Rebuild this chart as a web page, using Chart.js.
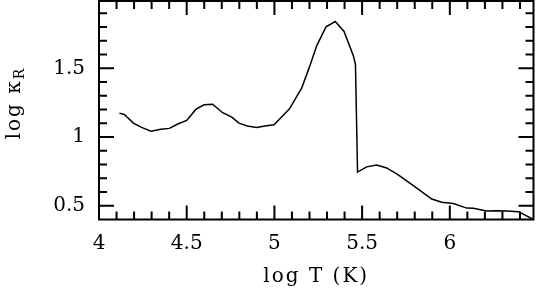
<!DOCTYPE html>
<html><head><meta charset="utf-8">
<script src="https://cdn.jsdelivr.net/npm/chart.js@4/dist/chart.umd.min.js"></script>
<style>html,body{margin:0;padding:0;background:#fff}canvas{display:block}</style>
</head><body>
<canvas id="c" width="537" height="291"></canvas>
<script>
// ---- data ----
const logT = [4.116, 4.144, 4.196, 4.243, 4.296, 4.353, 4.401, 4.452, 4.500, 4.553, 4.599, 4.648,
  4.705, 4.757, 4.798, 4.846, 4.899, 4.946, 4.998, 5.042, 5.085, 5.156, 5.199, 5.241, 5.294,
  5.347, 5.397, 5.450, 5.462, 5.474, 5.526, 5.583, 5.640, 5.706, 5.802, 5.897, 5.954, 6.020,
  6.096, 6.134, 6.210, 6.267, 6.324, 6.391, 6.477];
const logKappaR = [1.174, 1.164, 1.101, 1.070, 1.043, 1.056, 1.063, 1.097, 1.121, 1.203, 1.235, 1.239,
  1.177, 1.145, 1.101, 1.080, 1.070, 1.080, 1.090, 1.148, 1.203, 1.358, 1.507, 1.664, 1.802,
  1.841, 1.768, 1.592, 1.530, 0.745, 0.783, 0.797, 0.775, 0.725, 0.638, 0.549, 0.525, 0.517,
  0.483, 0.481, 0.462, 0.464, 0.462, 0.457, 0.400];
const xTickValues = [4, 4.5, 5, 5.5, 6];
const yTickValues = [0.5, 1, 1.5];
const xTitle = 'log T (K)';
const yTitleMain = 'log κ';
const yTitleSub = 'R';

const FONT = '"DejaVu Serif", serif';

const framePlugin = {
  id: 'frame',
  afterDatasetsDraw(chart) {
    const {ctx, chartArea: a, scales: {x, y}} = chart;
    ctx.save();
    ctx.strokeStyle = '#000';
    ctx.lineWidth = 2;
    ctx.strokeRect(a.left, a.top, a.right - a.left, a.bottom - a.top);
    ctx.lineWidth = 2;
    ctx.beginPath();
    const near = (v, arr) => arr.some(t => Math.abs(t - v) < 1e-6);
    for (let i = 41; i <= 64; i++) {
      const v = i / 10;
      if (v <= x.min || v >= x.max) continue;
      const px = x.getPixelForValue(v);
      const L = near(v, xTickValues) ? 14 : 8;
      ctx.moveTo(px, a.bottom); ctx.lineTo(px, a.bottom - L);
      ctx.moveTo(px, a.top); ctx.lineTo(px, a.top + L);
    }
    for (let i = 5; i <= 19; i++) {
      const v = i / 10;
      if (v <= y.min || v >= y.max) continue;
      const py = y.getPixelForValue(v);
      const L = near(v, yTickValues) ? 15 : 8;
      ctx.moveTo(a.left, py); ctx.lineTo(a.left + L, py);
      ctx.moveTo(a.right, py); ctx.lineTo(a.right - L, py);
    }
    ctx.stroke();

    // axis titles
    ctx.fillStyle = '#000';
    ctx.font = '20px ' + FONT;
    ctx.letterSpacing = '2px';
    ctx.textAlign = 'center';
    ctx.textBaseline = 'alphabetic';
    ctx.fillText(xTitle, (a.left + a.right) / 2, 282);

    ctx.textAlign = 'left';
    const mainW = ctx.measureText(yTitleMain).width;
    ctx.font = '14px ' + FONT;
    const subW = ctx.measureText(yTitleSub).width;
    const total = mainW + subW;
    ctx.translate(20, 103);
    ctx.rotate(-Math.PI / 2);
    ctx.font = '20px ' + FONT;
    ctx.fillText(yTitleMain, -total / 2, 0);
    ctx.font = '14px ' + FONT;
    ctx.fillText(yTitleSub, -total / 2 + mainW, 4);
    ctx.restore();
  }
};

new Chart(document.getElementById('c'), {
  type: 'scatter',
  data: {
    datasets: [{
      data: logT.map((t, i) => ({x: t, y: logKappaR[i]})),
      showLine: true,
      borderColor: '#000',
      borderWidth: 1.5,
      pointRadius: 0,
      tension: 0,
      fill: false
    }]
  },
  options: {
    responsive: false,
    devicePixelRatio: 1,
    animation: false,
    layout: {padding: {top: 1, right: 3.5, left: 0, bottom: 0}},
    plugins: {legend: {display: false}, tooltip: {enabled: false}},
    scales: {
      x: {
        type: 'linear', min: 4, max: 6.4771,
        afterFit(s) { s.height = 71.5; s.paddingLeft = 0; s.paddingRight = 0; },
        afterBuildTicks(s) { s.ticks = xTickValues.map(v => ({value: v})); },
        grid: {display: false, drawTicks: false},
        border: {display: false},
        ticks: {color: '#000', font: {family: FONT, size: 20}, padding: 12, maxRotation: 0, autoSkip: false,
          callback: v => String(v)}
      },
      y: {
        type: 'linear', min: 0.4, max: 1.99,
        afterFit(s) { s.width = 99; s.paddingTop = 0; s.paddingBottom = 0; },
        afterBuildTicks(s) { s.ticks = yTickValues.map(v => ({value: v})); },
        grid: {display: false, drawTicks: false},
        border: {display: false},
        ticks: {color: '#000', font: {family: FONT, size: 20}, padding: 14, autoSkip: false,
          callback: v => String(v)}
      }
    }
  },
  plugins: [framePlugin]
});
</script>
</body></html>
